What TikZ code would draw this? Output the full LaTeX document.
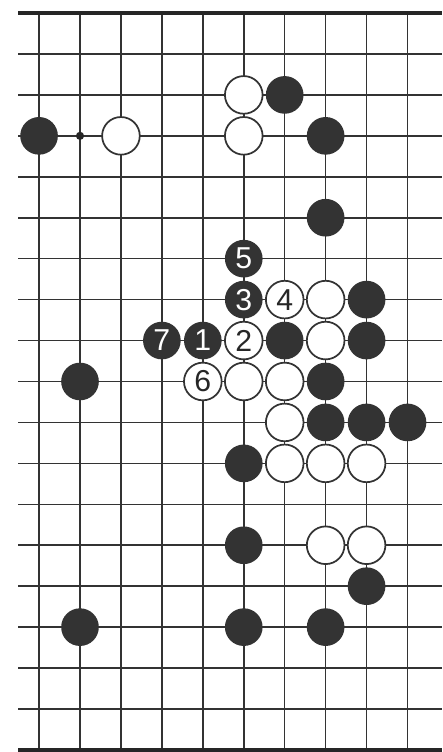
\documentclass[tikz,border=0pt]{standalone}
\usepackage{fontspec}
\setsansfont{Liberation Sans}
\usetikzlibrary{positioning}

\begin{document}
\begin{tikzpicture}[
  x=1cm, y=-1cm,
  % --- board styles ---
  gridline/.style={line width=1.1pt, black!80},
  edgeline/.style={line width=2.6pt, black!85},
  stone/.style={
    circle, minimum size=0.92cm, inner sep=0pt,
    font=\sffamily\fontsize{21}{21}\selectfont
  },
  bstone/.style={stone, fill=black!80, text=white},
  wstone/.style={stone, draw=black!80, line width=1.2pt, fill=white, text=black!85},
  hoshi/.style={circle, fill=black!85, inner sep=0pt, minimum size=0.2cm},
]

\fill[white] (-0.954,-0.318) rectangle (9.853,18.05);
\useasboundingbox (-0.954,-0.318) rectangle (9.853,18.05);

% ══════════════════════════════════════════════
% BOARD GRID
% ══════════════════════════════════════════════

\foreach \r in {1,...,17}
  \draw[gridline] (-0.513,\r) -- (9.853,\r);
\foreach \c in {0,...,9}
  \draw[gridline] (\c,0) -- (\c,18);

% top and bottom edges
\draw[edgeline] (-0.513,0) -- (9.853,0);
\draw[edgeline] (-0.513,18) -- (9.853,18);

\node[hoshi] (star) at (1,3) {};

% ══════════════════════════════════════════════
% STONES ON THE BOARD
% ══════════════════════════════════════════════

\foreach \c/\r in {6/2, 0/3, 7/3, 7/5, 8/7, 6/8, 8/8, 1/9, 7/9,
                   7/10, 8/10, 9/10, 5/11, 5/13, 8/14, 1/15, 5/15, 7/15}
  \node[bstone] (b\c-\r) at (\c,\r) {};

\foreach \c/\r in {5/2, 2/3, 5/3, 7/7, 7/8, 5/9, 6/9,
                   6/10, 6/11, 7/11, 8/11, 7/13, 8/13}
  \node[wstone] (w\c-\r) at (\c,\r) {};

% ══════════════════════════════════════════════
% NUMBERED MOVES
% ══════════════════════════════════════════════

\node[bstone] (m1) at (4,8) {1};
\node[wstone] (m2) at (5,8) {2};
\node[bstone] (m3) at (5,7) {3};
\node[wstone] (m4) at (6,7) {4};
\node[bstone] (m5) at (5,6) {5};
\node[wstone] (m6) at (4,9) {6};
\node[bstone] (m7) at (3,8) {7};

\end{tikzpicture}
\end{document}
